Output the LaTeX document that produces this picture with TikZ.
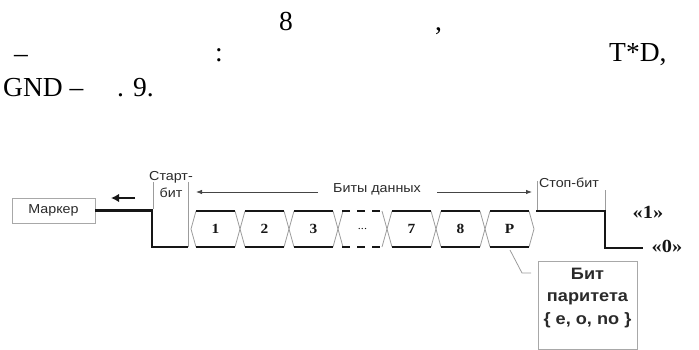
\documentclass[tikz,border=0pt]{standalone}
\usepackage{fontspec}
\setmainfont{Liberation Serif}
\setsansfont{Liberation Sans}
\newfontfamily\labsans[FakeStretch=1.1]{Liberation Sans}
\newfontfamily\numserif[FakeStretch=1.1]{Liberation Serif}
\usetikzlibrary{arrows.meta}
\definecolor{sigc}{HTML}{161616}
\definecolor{thinc}{HTML}{9C9C9C}
\definecolor{boxc}{HTML}{A8A8A8}
\definecolor{labc}{HTML}{2A2A2A}
\begin{document}
\begin{tikzpicture}[x=1pt,y=-1pt,
  sig/.style={line width=2.9pt,color=sigc},
  thinline/.style={line width=0.8pt,color=thinc},
  lbl/.style={font=\labsans\fontsize{13}{15}\selectfont,text=labc,inner sep=0pt},
  num/.style={font=\numserif\bfseries\fontsize{14}{16}\selectfont,text=sigc,inner sep=0pt},
  lvl/.style={font=\numserif\bfseries\fontsize{18.5}{20}\selectfont,text=sigc,inner sep=0pt},
  big/.style={font=\fontsize{27.5}{30}\selectfont,anchor=base west,inner sep=0pt},
  thinarr/.style={line width=0.8pt,color=sigc!80,-{Latex[length=6pt,width=4.5pt]}},
  boxst/.style={draw=boxc,line width=0.8pt,inner sep=0pt}
]
\useasboundingbox (0,0) rectangle (699,350);

% top text
\node[big] (t1) at (279,31) {8};
\node[big] (t2) at (435,31) {,};
\node[big] (t3) at (14,63) {–};
\node[big] (t4) at (215,62) {:};
\node[big] (t5) at (609,62) {T*D,};
\node[big] (t6) at (3,97) {GND –};
\node[big] (t7) at (117,97) {. 9.};

% marker box
\node[boxst,lbl,minimum width=83pt,minimum height=25pt] (mk) at (53.5,210.5) {Маркер};
\coordinate (ma1) at (135,198);
\coordinate (ma2) at (111,198);
\draw[line width=2.8pt,color=sigc,-{Latex[length=8pt,width=8.5pt]}] (ma1) -- (ma2);

% start bit
\draw[sig] (mk.east) -- (152,210.5) -- (152,247) -- (188,247);
\draw[thinline] (153.5,182) -- (153.5,209);
\draw[thinline] (188,182) -- (188,247);
\node[lbl] (st1) at (171,177) {Старт-};
\node[lbl] (st2) at (171,193) {бит};

% data bits
\foreach \k/\t in {0/1,1/2,2/3,4/7,5/8,6/P}{
  \pgfmathsetmacro{\bl}{191+49*\k}
  \pgfmathsetmacro{\br}{\bl+49}
  \draw[thinline] (\bl+5,211) -- (\bl,229) -- (\bl+5,247);
  \draw[thinline] (\br-5,211) -- (\br,229) -- (\br-5,247);
  \draw[sig] (\bl+5,211) -- (\br-5,211);
  \draw[sig] (\bl+5,247) -- (\br-5,247);
  \node[num] (c\k) at (\bl+24.5,229) {\t};
}
% dashed cell
\draw[thinline] (343,211) -- (338,229) -- (343,247);
\draw[thinline] (382,211) -- (387,229) -- (382,247);
\draw[sig,dash pattern=on 8pt off 7pt] (342,211) -- (382,211);
\draw[sig,dash pattern=on 8pt off 7pt] (342,247) -- (382,247);
\node[num,font=\numserif\fontsize{11}{12}\selectfont] (c3) at (362.5,229) {...};

% data bits label and arrows
\node[lbl] (bd) at (377,189) {Биты данных};
\coordinate (al) at (318,192);
\coordinate (tl) at (196,192);
\coordinate (ar) at (437,192);
\coordinate (tr) at (532,192);
\draw[thinarr] (al) -- (tl);
\draw[thinarr] (ar) -- (tr);

% stop bit
\draw[sig] (536,211) -- (605,211) -- (605,248) -- (643,248);
\draw[thinline] (537,181) -- (537,210);
\draw[thinline] (605,190) -- (605,210);
\node[lbl] (sp) at (569,183) {Стоп-бит};

% levels
\node[lvl] (l1) at (648,212) {«1»};
\node[lvl] (l0) at (667,246) {«0»};

% parity box
\node[boxst,minimum width=99pt,minimum height=88pt] (pb) at (587.5,305.5) {};
\node[font=\labsans\bfseries\fontsize{16.5}{22.5}\selectfont,text=labc,align=center,inner sep=0pt] (pt) at (587.5,298) {Бит\\паритета\\\{ e, o, no \}};
\coordinate (p1) at (510,250);
\coordinate (p2) at (522,273);
\coordinate (p3) at (531,273);
\draw[thinline] (p1) -- (p2) -- (p3);
\end{tikzpicture}
\end{document}
